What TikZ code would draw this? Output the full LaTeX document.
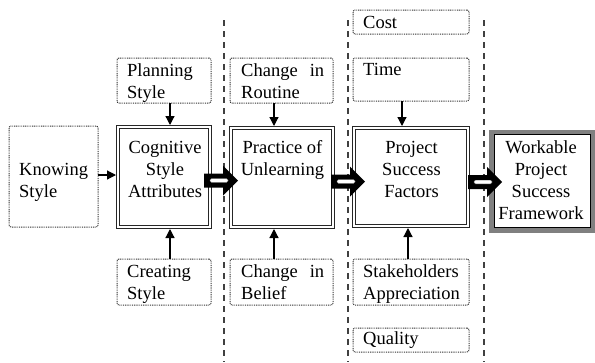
\documentclass[tikz,border=0pt]{standalone}
\usepackage{fontspec}
\setmainfont{Liberation Serif}
\usetikzlibrary{arrows.meta,calc}
\tikzset{
  dotbox/.style={draw=black!80, dash pattern=on 0.9pt off 0.9pt, line width=1pt, rounded corners=2pt, inner sep=0pt, outer sep=0pt, fill=white},
  mainbox/.style={draw=black!85, double=white, double distance=1.6pt, line width=1.2pt, inner sep=0pt, outer sep=2pt, fill=white},
  txt/.style={inner sep=0pt, font=\fontsize{18.5}{22}\selectfont, text=black},
  ltxt/.style={txt, anchor=north west, align=left},
  ctxt/.style={txt, anchor=north, align=center},
  arr/.style={line width=1.2pt, -{Triangle[length=9pt,width=9pt]}},
  sepline/.style={draw=black!75, line width=2pt, dash pattern=on 6pt off 5pt},
}
\newcommand\blockarr[1]{%
  \fill[black] #1 ++(0,-7) -- ++(19,0) -- ++(0,-8) -- ++(15,15) -- ++(-15,15) -- ++(0,-8) -- ++(-19,0) -- cycle;
  \filldraw[fill=white, draw=black!50, line width=0.4pt, rounded corners=1.5pt] #1 ++(6,-1.8) rectangle ++(18,3.6);
}
\begin{document}
\begin{tikzpicture}[x=1pt,y=-1pt]
\useasboundingbox (0,0) rectangle (595,362);
% separators
\coordinate (s1a) at (224,20); \coordinate (s1b) at (224,362);
\coordinate (s2a) at (348,20); \coordinate (s2b) at (348,362);
\coordinate (s3a) at (484,20); \coordinate (s3b) at (484,362);
\draw[sepline] (s1a) -- (s1b);
\draw[sepline] (s2a) -- (s2b);
\draw[sepline] (s3a) -- (s3b);
% dotted boxes
\node[dotbox, minimum width=89pt, minimum height=101pt] (know) at (53.5,176.5) {};
\node[dotbox, minimum width=94pt, minimum height=45pt] (plan) at (164,80.5) {};
\node[dotbox, minimum width=103pt, minimum height=45pt] (rout) at (281.5,80.5) {};
\node[dotbox, minimum width=116pt, minimum height=24pt] (cost) at (411,22) {};
\node[dotbox, minimum width=116pt, minimum height=43pt] (time) at (411,79.5) {};
\node[dotbox, minimum width=94pt, minimum height=46pt] (crea) at (164,282) {};
\node[dotbox, minimum width=103pt, minimum height=46pt] (beli) at (281.5,282) {};
\node[dotbox, minimum width=116pt, minimum height=46pt] (stak) at (411,282) {};
\node[dotbox, minimum width=116pt, minimum height=24pt] (qual) at (411,340) {};
% main boxes
\node[mainbox, minimum width=92pt, minimum height=100pt] (cog) at (164,177) {};
\node[mainbox, minimum width=102pt, minimum height=99pt] (prac) at (282,177.5) {};
\node[mainbox, minimum width=114pt, minimum height=98pt] (proj) at (411,177) {};
\node[fill=black!50, minimum width=106pt, minimum height=103pt, inner sep=0pt] (workf) at (542,181.5) {};
\node[draw=black, line width=1.2pt, fill=white, minimum width=96pt, minimum height=93pt, inner sep=0pt] (work) at (542.5,181) {};
% texts
\node[ltxt] (knowt) at (19,159.6) {\strut Knowing\\Style};
\node[ltxt, text width=74pt] (plant) at (127,60.6) {\strut Planning\\Style};
\node[ltxt, text width=83pt] (routt) at (241,60.6) {\strut Change\hfill in\\Routine};
\node[ltxt] (costt) at (363,12.6) {\strut Cost};
\node[ltxt] (timet) at (363,59.6) {\strut Time};
\node[ltxt, text width=74pt] (creat) at (127,261.6) {\strut Creating\\Style};
\node[ltxt, text width=83pt] (belit) at (241,261.6) {\strut Change\hfill in\\Belief};
\node[ltxt] (stakt) at (363,261.6) {\strut Stakeholders\\Appreciation};
\node[ltxt] (qualt) at (363,328.6) {\strut Quality};
\node[ctxt] (cogt) at (165,137.6) {\strut Cognitive\\Style\\Attributes};
\node[ctxt] (pract) at (282.5,137.6) {\strut Practice of\\Unlearning};
\node[ctxt] (projt) at (411.5,137.6) {\strut Project\\Success\\Factors};
\node[ctxt] (workt) at (541,137.6) {\strut Workable\\Project\\Success\\Framework};
% thin arrows
\draw[arr] ([yshift=1.5pt]know.east) -- ([yshift=2pt]cog.west);
\draw[arr] ([xshift=6pt]plan.south) -- ([xshift=6pt]cog.north);
\draw[arr] ([xshift=6pt]crea.north) -- ([xshift=6pt]cog.south);
\draw[arr] ([xshift=-7.5pt]rout.south) -- ([xshift=-8pt]prac.north);
\draw[arr] ([xshift=-7.5pt]beli.north) -- ([xshift=-8pt]prac.south);
\draw[arr] ([xshift=-9pt]time.south) -- ([xshift=-9pt]proj.north);
\draw[arr] ([xshift=-3pt]stak.north) -- ([xshift=-3pt]proj.south);
% block arrows
\blockarr{([xshift=-8pt,yshift=-3.5pt]cog.east)}
\blockarr{([xshift=-4pt,yshift=-4pt]prac.east)}
\blockarr{([xshift=-2pt,yshift=-5pt]proj.east)}
\end{tikzpicture}
\end{document}
